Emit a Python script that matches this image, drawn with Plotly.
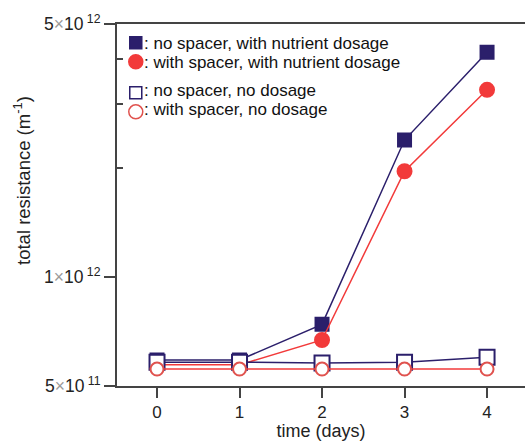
import plotly.graph_objects as go

days = [0, 1, 2, 3, 4]
nospacer_dosage = [5.9e11, 5.9e11, 7.4e11, 2.39e12, 4.18e12]
spacer_dosage = [5.72e11, 5.72e11, 6.7e11, 1.96e12, 3.29e12]
nospacer_nodosage = [5.82e11, 5.82e11, 5.79e11, 5.82e11, 6.0e11]
spacer_nodosage = [5.57e11, 5.57e11, 5.57e11, 5.57e11, 5.57e11]

names = [": no spacer, with nutrient dosage", ": with spacer, with nutrient dosage",
         ": no spacer, no dosage", ": with spacer, no dosage"]
y_tickvals = [5e11, 1e12, 5e12]
X = "<span style='color:#9a9a9a'>×</span>"
y_ticktext = ["5" + X + "10<sup> 11</sup>", "1" + X + "10<sup> 12</sup>", "5" + X + "10<sup> 12</sup>"]
y_minor = [2e12, 3e12, 4e12]
y_title = "total resistance (m<sup>-1</sup>)"
x_title = "time (days)"

NAVY = "#2b1f6b"
RED = "#f23a3a"
RED_OPEN = "#e0524e"

fig = go.Figure()
series = [
    (nospacer_dosage, names[0], NAVY, NAVY, NAVY, "square", "g1", 13),
    (spacer_dosage, names[1], RED, RED, RED, "circle", "g1", 14),
    (nospacer_nodosage, names[2], NAVY, "white", NAVY, "square", "g2", 15),
    (spacer_nodosage, names[3], RED, "white", RED_OPEN, "circle", "g2", 13),
]
for ys, nm, lc, fc, mc, sym, grp, sz in series:
    fig.add_trace(go.Scatter(
        x=days, y=ys, mode="lines+markers", name=nm, legendgroup=grp,
        line=dict(color=lc, width=1.5),
        marker=dict(symbol=sym, size=sz, color=fc, line=dict(color=mc, width=2)),
        showlegend=False))
    # legend symbol only; its label is drawn as an annotation beside it
    fig.add_trace(go.Scatter(
        x=[None], y=[None], mode="markers", name=" ", legendgroup=grp,
        marker=dict(symbol=sym, size=12 if sym == "square" else 14, color=fc,
                    line=dict(color=mc, width=1.5))))

# legend labels (same names as the traces)
label_y = [0.9475, 0.895, 0.815, 0.765]
for nm, yy in zip(names, label_y):
    fig.add_annotation(text=nm, xref="paper", yref="paper", x=0.062, y=yy,
                       xanchor="left", yanchor="middle", showarrow=False,
                       font=dict(size=17, color="#111"))

# y-axis title (sits a little above the axis centre, as in the original)
fig.add_annotation(text=y_title, xref="paper", yref="paper", x=-0.233, y=0.569,
                   xanchor="center", yanchor="middle", textangle=-90,
                   showarrow=False, font=dict(size=18.5, color="#222"))

fig.update_layout(
    width=525, height=441,
    margin=dict(l=117, r=0, t=24, b=55),
    paper_bgcolor="white", plot_bgcolor="white",
    font=dict(family="Liberation Sans, Arial, sans-serif", size=17, color="#222"),
    showlegend=True,
    legend=dict(x=-0.003, y=0.988,
                xanchor="left", yanchor="top", bgcolor="rgba(0,0,0,0)",
                font=dict(size=12, color="#111"), tracegroupgap=12,
                itemwidth=30),
    xaxis=dict(range=[-0.485, 4.46], tickvals=days, ticktext=[str(d) for d in days],
               showline=True, linecolor="#444", linewidth=2, mirror=True,
               ticks="outside", ticklen=10, tickwidth=1.5, tickcolor="#444",
               showgrid=False, zeroline=False,
               title=dict(text=x_title, font=dict(size=18), standoff=5),
               tickfont=dict(size=17)),
    yaxis=dict(type="log", range=[11.69897, 12.69897], tickvals=y_tickvals,
               ticktext=y_ticktext, showline=True, linecolor="#444", linewidth=2,
               ticks="outside", ticklen=11, tickwidth=1.5, tickcolor="#444",
               showgrid=False, zeroline=False,
               minor=dict(tickvals=y_minor, ticks="inside", ticklen=6,
                          tickwidth=1.5, tickcolor="#444", showgrid=False),
               tickfont=dict(size=17.5)),
)
fig.write_html("out.html")
